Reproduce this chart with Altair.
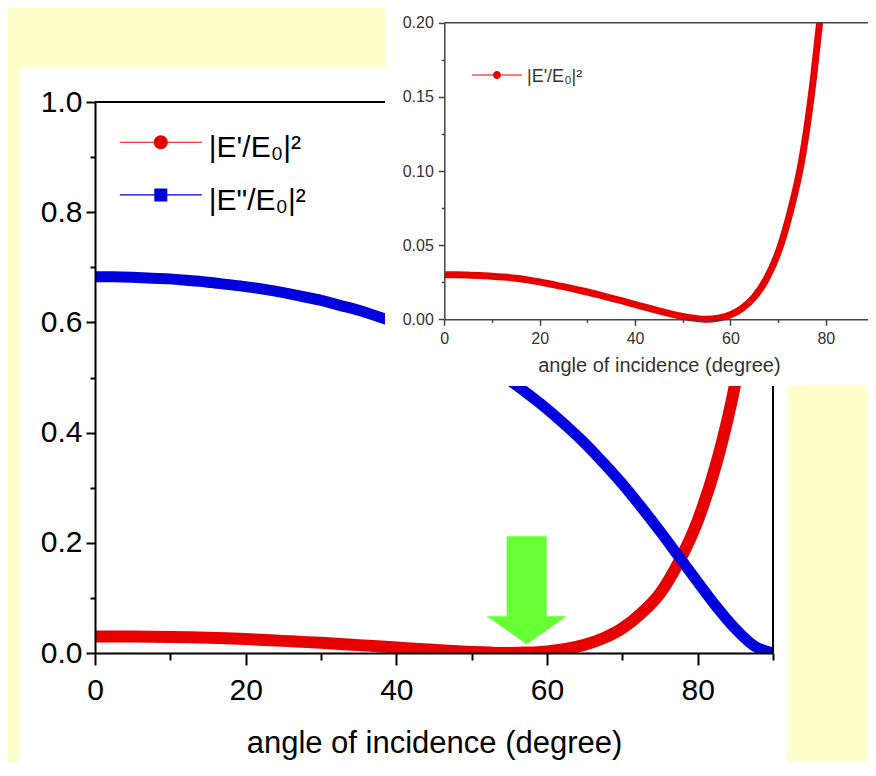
import altair as alt
import pandas as pd

# ---------------- data ----------------
angle = [0, 2.5, 5, 7.5, 10, 12.5, 15, 17.5, 20, 22.5, 25, 27.5, 30, 32.5, 35,
         37.5, 40, 42.5, 45, 47.5, 50, 52.5, 55, 57.5, 60, 62.5, 65, 67.5, 70,
         72.5, 75, 77.5, 80, 82.5, 85, 87.5, 90]
refl = [0.0300, 0.0300, 0.0298, 0.0295, 0.0291, 0.0285, 0.0277, 0.0266, 0.0252,
        0.0236, 0.0220, 0.0202, 0.0184, 0.0164, 0.0143, 0.0122, 0.0100, 0.0078,
        0.0057, 0.0037, 0.0020, 0.0007, 0.0000, 0.0008, 0.0030, 0.0075, 0.0150,
        0.0270, 0.0450, 0.0720, 0.1080, 0.1650, 0.2400, 0.3450, 0.4900, 0.7000,
        1.0000]
trans = [0.683, 0.683, 0.682, 0.680, 0.679, 0.676, 0.673, 0.669, 0.665, 0.660,
         0.654, 0.647, 0.640, 0.631, 0.622, 0.611, 0.599, 0.586, 0.571, 0.555,
         0.537, 0.516, 0.495, 0.470, 0.443, 0.413, 0.381, 0.345, 0.307, 0.265,
         0.221, 0.175, 0.129, 0.084, 0.044, 0.013, 0.000]

inset_angle = [0, 2.5, 5, 7.5, 10, 12.5, 15, 17.5, 20, 22.5, 25, 27.5, 30, 32.5,
               35, 37.5, 40, 42.5, 45, 47.5, 50, 52.5, 55, 57.5, 60, 62.5, 65,
               67.5, 70, 72.5, 75, 77.5, 78.7]
inset_refl = [0.0300, 0.0300, 0.0298, 0.0295, 0.0291, 0.0285, 0.0277, 0.0266,
              0.0252, 0.0236, 0.0220, 0.0202, 0.0184, 0.0164, 0.0143, 0.0122,
              0.0100, 0.0078, 0.0057, 0.0037, 0.0020, 0.0007, 0.0000, 0.0008,
              0.0030, 0.0075, 0.0150, 0.0270, 0.0450, 0.0720, 0.1080, 0.1650,
              0.2000]

series_names = ["|E'/E\u2080|\u00b2", '|E"/E\u2080|\u00b2']
x_ticks = [0, 10, 20, 30, 40, 50, 60, 70, 80, 90]
y_ticks = [0.0, 0.1, 0.2, 0.3, 0.4, 0.5, 0.6, 0.7, 0.8, 0.9, 1.0]
inset_y_ticks = [0.0, 0.025, 0.05, 0.075, 0.1, 0.125, 0.15, 0.175, 0.2]
arrow_angle = [57.3]
arrow_value = [0.114]

# ---------------- styles ----------------
FONT = "Liberation Sans"
RED = "#E60000"
BLUE = "#0000DD"
GREEN = "#66FF33"
YELLOW = "#FFFFCC"
GREY = "#444444"
W, H = 678, 551
PAD = {"left": 87, "top": 94, "right": 95, "bottom": 109}

ARROW = "M-0.37,-1L0.37,-1L0.37,0.481L0.741,0.481L0,1L-0.741,0.481L-0.37,0.481Z"
CIRC = ("M-2.733,-0.423H2.733V-0.343H-2.733Z "
        "M-0.467,-0.383A0.467,0.467,0,1,1,0.467,-0.383A0.467,0.467,0,1,1,-0.467,-0.383Z")
SQ = ("M-2.733,-0.423H2.733V-0.343H-2.733Z "
      "M-0.433,-0.816H0.433V0.05H-0.433Z")
CIRC_IN = ("M-2.78,-0.275H2.78V-0.165H-2.78Z "
           "M-0.444,-0.22A0.444,0.444,0,1,1,0.444,-0.22A0.444,0.444,0,1,1,-0.444,-0.22Z")


def df_xy(xs, ys):
    return pd.DataFrame({"angle": xs, "value": ys})


def cond(test, major, minor):
    return {"condition": {"test": test, "value": major}, "value": minor}


# ---------------- main chart ----------------
x_main = alt.X(
    "angle:Q",
    scale=alt.Scale(domain=[0, 90], nice=False, zero=False),
    axis=alt.Axis(
        orient="bottom", values=x_ticks,
        labelExpr="datum.value % 20 === 0 ? datum.label : ''",
        tickSize=cond("datum.value % 20 === 0", 12, 7),
        tickWidth=2, tickColor="black", domainColor="black", domainWidth=2,
        labelFont=FONT, labelFontSize=30, labelColor="black", labelPadding=10,
        labelFlush=False, labelOverlap=False, grid=False, zindex=1,
        title="angle of incidence (degree)", titleFont=FONT, titleFontSize=31,
        titleFontWeight="normal", titleColor="black", titleY=75,
    ),
)
y_main = alt.Y(
    "value:Q",
    scale=alt.Scale(domain=[0, 1], nice=False, zero=False),
    axis=alt.Axis(
        orient="left", values=y_ticks, format=".1f",
        labelExpr="round(datum.value * 10) % 2 === 0 ? datum.label : ''",
        tickSize=cond("round(datum.value * 10) % 2 === 0", 9, 5),
        tickWidth=2, tickColor="black", domainColor="black", domainWidth=2,
        labelFont=FONT, labelFontSize=30, labelColor="black", labelPadding=4,
        labelOverlap=False, grid=False, zindex=1, title=None,
    ),
)

main_bg = alt.Chart(pd.DataFrame({"k": [0]})).mark_rect(color="white").encode(
    x=alt.value(-75), x2=alt.value(692), y=alt.value(-34), y2=alt.value(674))

red = alt.Chart(df_xy(angle, refl)).mark_line(
    color=RED, strokeWidth=12, clip=True, interpolate="monotone", strokeJoin="round"
).encode(x=x_main, y=y_main)
blue = alt.Chart(df_xy(angle, trans)).mark_line(
    color=BLUE, strokeWidth=11, clip=True, interpolate="monotone", strokeJoin="round"
).encode(x=x_main, y=y_main)

frame = alt.Chart(pd.DataFrame({"angle": [0, 90], "angle2": [90, 90],
                                "value": [1.0, 0.0], "value2": [1.0, 1.0]})).mark_rule(
    color="black", strokeWidth=2).encode(x=x_main, x2="angle2:Q", y=y_main, y2="value2:Q")

arrow = alt.Chart(df_xy(arrow_angle, arrow_value)).mark_point(
    shape=ARROW, size=11664, filled=True, color=GREEN, opacity=1, strokeWidth=0
).encode(x=x_main, y=y_main)

leg_main = alt.Legend(
    title=None, orient="none", legendX=50.8, legendY=31, padding=0,
    symbolSize=900, symbolStrokeWidth=0, symbolOpacity=1,
    labelFont=FONT, labelFontSize=30, labelColor="black", labelOffset=33,
    rowPadding=22.7, labelLimit=400,
)
main_legend = alt.Chart(pd.DataFrame({"series": series_names, "angle": [0, 0],
                                      "value": [0, 0]})).transform_filter("false").mark_point(
    filled=True, opacity=1).encode(
    x=x_main, y=y_main,
    color=alt.Color("series:N", scale=alt.Scale(domain=series_names, range=[RED, BLUE]),
                    legend=leg_main),
    shape=alt.Shape("series:N", scale=alt.Scale(domain=series_names, range=[CIRC, SQ]),
                    legend=leg_main),
)

main_layer = alt.layer(red, blue, frame, arrow, main_legend)

# ---------------- inset chart ----------------
x_in = alt.X(
    "angle:Q",
    scale=alt.Scale(domain=[0, 90], range=[349.3, 778.5], nice=False, zero=False),
    axis=alt.Axis(
        orient="bottom", offset=-333.7, values=x_ticks,
        labelExpr="datum.value % 20 === 0 ? datum.label : ''",
        tickSize=cond("datum.value % 20 === 0", 6, 3),
        tickWidth=1.5, tickColor=GREY, domainColor=GREY, domainWidth=1.5,
        labelFont=FONT, labelFontSize=16, labelColor="#333333", labelPadding=5,
        labelFlush=False, labelOverlap=False, grid=False, zindex=1,
        title="angle of incidence (degree)", titleFont=FONT, titleFontSize=20,
        titleFontWeight="normal", titleColor="#333333", titleY=36,
    ),
)
y_in = alt.Y(
    "value:Q",
    scale=alt.Scale(domain=[0, 0.2], range=[217.3, -79.3], nice=False, zero=False),
    axis=alt.Axis(
        orient="left", offset=-349.3, values=inset_y_ticks, format=".2f",
        labelExpr="round(datum.value * 1000) % 50 === 0 ? datum.label : ''",
        tickSize=cond("round(datum.value * 1000) % 50 === 0", 6, 3),
        tickWidth=1.5, tickColor=GREY, domainColor=GREY, domainWidth=1.5,
        labelFont=FONT, labelFontSize=16, labelColor="#333333", labelPadding=5,
        labelOverlap=False, grid=False, zindex=1, title=None,
    ),
)

inset_bg = alt.Chart(pd.DataFrame({"k": [0]})).mark_rect(color="white").encode(
    x=alt.value(290), x2=alt.value(781), y=alt.value(-95), y2=alt.value(284))

inset_line = alt.Chart(df_xy(inset_angle, inset_refl)).mark_line(
    color=RED, strokeWidth=7, interpolate="monotone", strokeJoin="round"
).encode(x=x_in, y=y_in)

inset_frame = alt.Chart(pd.DataFrame({"angle": [0, 90], "angle2": [90, 90],
                                      "value": [0.2, 0.0], "value2": [0.2, 0.2]})).mark_rule(
    color=GREY, strokeWidth=1.5).encode(x=x_in, x2="angle2:Q", y=y_in, y2="value2:Q")

leg_in = alt.Legend(
    title=None, orient="none", legendX=393, legendY=-34, padding=0,
    symbolSize=324, symbolStrokeWidth=0, symbolOpacity=1,
    labelFont=FONT, labelFontSize=18, labelColor="#333333", labelOffset=21,
    labelLimit=300,
)
inset_legend = alt.Chart(pd.DataFrame({"series": series_names[:1], "angle": [0],
                                       "value": [0]})).transform_filter("false").mark_point(
    filled=True, opacity=1).encode(
    x=x_in, y=y_in,
    color=alt.Color("series:N", scale=alt.Scale(domain=series_names[:1], range=[RED]),
                    legend=leg_in),
    shape=alt.Shape("series:N", scale=alt.Scale(domain=series_names[:1], range=[CIRC_IN]),
                    legend=leg_in),
)

inset_layer = alt.layer(inset_line, inset_frame, inset_legend)

chart = alt.layer(main_bg, main_layer, inset_bg, inset_layer).resolve_scale(
    x="independent", y="independent", color="independent", shape="independent"
).resolve_legend(color="independent", shape="independent").properties(
    width=W, height=H, padding=PAD,
    autosize=alt.AutoSizeParams(type="none"), background=YELLOW,
).configure(font=FONT).configure_view(strokeWidth=0)

chart.save("out.html", embed_options={"renderer": "svg", "actions": False})
